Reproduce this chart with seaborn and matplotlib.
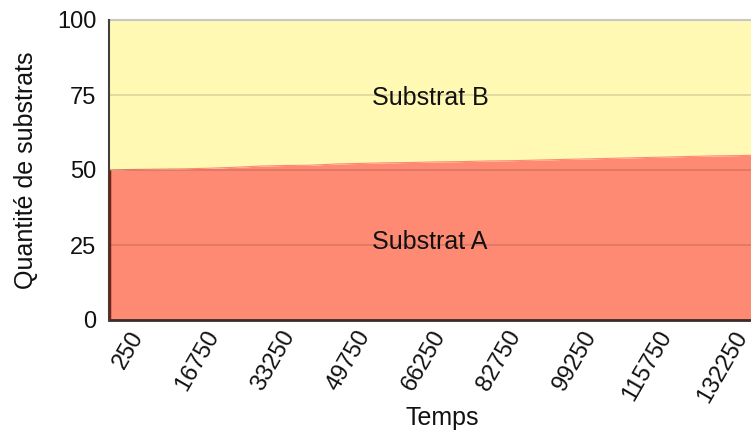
import matplotlib
matplotlib.use("Agg")
import matplotlib.pyplot as plt
import matplotlib.transforms as mtransforms
import numpy as np
import pandas as pd
import seaborn as sns

# ---- data ----
temps = [250, 5750, 11250, 16750, 22250, 27750, 33250, 38750, 44250, 49750,
         55250, 60750, 66250, 71750, 77250, 82750, 88250, 93750, 99250,
         104750, 110250, 115750, 121250, 126750, 132250, 137750, 143250, 148750]
substrat_a = [50.0, 50.2, 50.3, 50.4, 50.6, 50.9, 51.3, 51.5, 51.6, 52.0,
              52.2, 52.4, 52.5, 52.7, 52.8, 53.0, 53.1, 53.3, 53.5, 53.7,
              53.9, 54.1, 54.3, 54.5, 54.7, 54.8, 55.0, 55.1]
substrat_b = [100 - v for v in substrat_a]
tick_values = [250, 16750, 33250, 49750, 66250, 82750, 99250, 115750, 132250]
y_ticks = [0, 25, 50, 75, 100]
series_names = ["Substrat A", "Substrat B"]

df = pd.DataFrame({"Temps": temps, "Substrat A": substrat_a, "Substrat B": substrat_b})

sns.set_theme(style="white")
plt.rcParams["font.family"] = ["Liberation Sans", "DejaVu Sans"]

col_a = "#FF8A74"
col_b = "#FFF9B3"
fs_tick = 17
fs_text = 18
txt_col = "#111111"

W, H = 751, 434
left_px, right_px, top_px, bottom_px = 109, 775, 20, 320
fig = plt.figure(figsize=(W / 100, H / 100), dpi=100)
ax = fig.add_axes([left_px / W, (H - bottom_px) / H, (right_px - left_px) / W, (bottom_px - top_px) / H])

top_a = df["Substrat A"].to_numpy()
top_b = top_a + df["Substrat B"].to_numpy()
ax.fill_between(df["Temps"], 0, top_a, color=col_a, lw=0, zorder=1)
ax.fill_between(df["Temps"], top_a, top_b, color=col_b, lw=0, zorder=1)
sns.lineplot(data=df, x="Temps", y="Substrat A", ax=ax, color=col_a, lw=0.8, zorder=2)

units_per_px = 16500 / 75.5
ax.set_xlim(250, 250 + (right_px - left_px) * units_per_px)
ax.set_ylim(0, 100)

# gridlines on top of areas
for yv in y_ticks[1:-1]:
    ax.axhline(yv, color="#000000", alpha=0.14, lw=1.2, zorder=3)
ax.axhline(100, color="#c8c8c8", lw=1.5, zorder=3, clip_on=False)

# left edge of area A in dark red
ax.vlines(temps[0], 0, substrat_a[0], color="#6e2418", lw=2.5, zorder=4)

for s in ["top", "right"]:
    ax.spines[s].set_visible(False)
ax.spines["left"].set_color("#404040")
ax.spines["left"].set_linewidth(1.5)
ax.spines["bottom"].set_color("#3a2a28")
ax.spines["bottom"].set_linewidth(2)
ax.spines["left"].set_zorder(3)

ax.set_yticks(y_ticks)
ax.set_yticklabels([str(v) for v in y_ticks], fontsize=fs_tick, color=txt_col)
ax.tick_params(axis="y", length=0, pad=9)

ax.set_xticks(tick_values)
ax.set_xticklabels([str(v) for v in tick_values], fontsize=fs_tick, color=txt_col,
                   rotation=60, ha="right", va="top", rotation_mode="anchor")
ax.tick_params(axis="x", length=0, pad=5)
offset = mtransforms.ScaledTranslation(20 / 100, 0, fig.dpi_scale_trans)
for lab in ax.get_xticklabels():
    lab.set_transform(lab.get_transform() + offset)

ax.set_xlabel("Temps", fontsize=fs_text, color=txt_col, labelpad=0)
ax.set_ylabel("Quantité de substrats", fontsize=fs_text, color=txt_col, labelpad=14)

ax.text(70400, 26, series_names[0], fontsize=fs_text, ha="center", va="center", color=txt_col, zorder=5)
ax.text(70400, 74, series_names[1], fontsize=fs_text, ha="center", va="center", color=txt_col, zorder=5)

fig.savefig("out.png", dpi=100)
